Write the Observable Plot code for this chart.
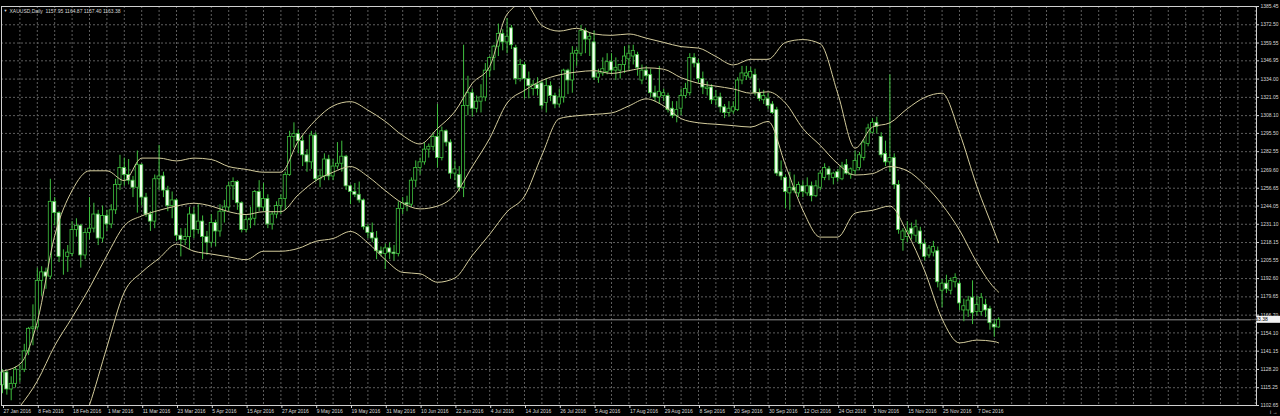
<!DOCTYPE html>
<html><head><meta charset="utf-8">
<script src="https://cdn.jsdelivr.net/npm/d3@7"></script>
<script src="https://cdn.jsdelivr.net/npm/@observablehq/plot@0.6"></script>
<style>
html,body{margin:0;padding:0;background:#000;}
#chart{width:1280px;height:416px;overflow:hidden;}
</style>
</head><body><div id="chart"></div>
<script>
const symbolTitle = "XAUUSD,Daily  1157.95 1164.87 1157.40 1163.38";
const lastPrice = 1163.38;
const dateLabels = ["27 Jan 2016","8 Feb 2016","18 Feb 2016","1 Mar 2016","11 Mar 2016","23 Mar 2016","5 Apr 2016","15 Apr 2016","27 Apr 2016","9 May 2016","19 May 2016","31 May 2016","10 Jun 2016","22 Jun 2016","4 Jul 2016","14 Jul 2016","26 Jul 2016","5 Aug 2016","17 Aug 2016","29 Aug 2016","8 Sep 2016","20 Sep 2016","30 Sep 2016","12 Oct 2016","24 Oct 2016","3 Nov 2016","15 Nov 2016","25 Nov 2016","7 Dec 2016"];
const priceTicks = [1385.45,1372.50,1359.55,1346.95,1334.00,1321.05,1308.10,1295.50,1282.55,1269.60,1256.65,1244.05,1231.10,1218.15,1205.55,1192.60,1179.65,1166.70,1154.10,1141.15,1128.20,1115.25,1102.65];

const open = [1117,1126,1114,1118,1128,1128,1141,1157,1158,1191,1197,1194,1247,1239,1208,1208,1210,1227,1230,1209,1225,1228,1238,1221,1237,1231,1241,1259,1271,1266,1262,1257,1273,1250,1238,1233,1263,1265,1255,1244,1248,1223,1220,1222,1238,1227,1233,1222,1218,1232,1226,1240,1243,1258,1261,1246,1227,1234,1235,1254,1243,1249,1231,1238,1244,1249,1266,1293,1295,1290,1280,1275,1294,1263,1265,1277,1265,1272,1274,1279,1258,1254,1252,1248,1229,1225,1221,1212,1210,1214,1211,1210,1242,1246,1245,1262,1271,1275,1284,1286,1293,1278,1297,1289,1267,1266,1257,1315,1324,1313,1318,1321,1340,1349,1357,1366,1360,1370,1356,1334,1344,1334,1327,1330,1331,1317,1329,1322,1316,1321,1340,1333,1352,1352,1368,1362,1360,1335,1338,1339,1346,1340,1340,1344,1348,1350,1351,1333,1340,1337,1324,1321,1322,1322,1313,1308,1313,1322,1324,1349,1345,1334,1327,1328,1319,1321,1314,1310,1311,1312,1333,1336,1335,1337,1324,1319,1320,1316,1312,1268,1264,1253,1257,1253,1258,1253,1258,1251,1257,1264,1270,1264,1268,1263,1273,1266,1269,1271,1278,1288,1296,1303,1293,1281,1275,1278,1259,1220,1222,1228,1223,1226,1217,1209,1211,1212,1184,1189,1184,1190,1189,1170,1170,1179,1169,1169,1174,1171,1160,1157.95];
const high = [1128,1127,1123,1130,1131,1146,1158,1174,1200,1201,1200,1263,1250,1240,1213,1216,1233,1235,1231,1228,1250,1246,1241,1244,1241,1245,1263,1280,1278,1277,1265,1283,1274,1253,1240,1266,1287,1268,1258,1254,1249,1228,1228,1243,1243,1245,1237,1226,1238,1234,1245,1248,1261,1264,1262,1247,1237,1243,1255,1262,1260,1252,1240,1247,1252,1268,1297,1303,1298,1294,1284,1297,1296,1270,1281,1280,1277,1289,1290,1280,1259,1260,1261,1249,1231,1232,1226,1215,1217,1218,1216,1247,1250,1251,1264,1276,1278,1289,1288,1296,1316,1300,1298,1291,1276,1272,1358,1336,1327,1322,1330,1345,1350,1358,1373,1369,1377,1372,1358,1348,1346,1339,1333,1335,1333,1334,1332,1324,1327,1341,1341,1357,1356,1372,1370,1367,1368,1341,1349,1352,1352,1349,1344,1357,1358,1358,1353,1344,1343,1341,1329,1343,1327,1324,1318,1318,1327,1331,1352,1352,1348,1339,1332,1330,1326,1324,1316,1318,1318,1335,1343,1343,1342,1341,1327,1326,1324,1318,1314,1276,1266,1268,1266,1261,1262,1264,1261,1262,1269,1274,1272,1268,1270,1275,1277,1271,1283,1282,1291,1302,1306,1307,1296,1290,1337,1281,1262,1228,1233,1232,1234,1229,1220,1216,1219,1215,1192,1195,1193,1196,1191,1178,1180,1191,1180,1182,1178,1173,1163,1164.87];
const low = [1111,1110,1106,1115,1119,1126,1138,1145,1156,1180,1185,1192,1230,1204,1195,1197,1208,1222,1200,1206,1220,1225,1216,1218,1226,1228,1238,1255,1258,1259,1250,1239,1244,1236,1226,1228,1255,1250,1240,1235,1219,1208,1216,1213,1221,1224,1206,1209,1215,1215,1222,1232,1240,1248,1241,1225,1225,1228,1230,1240,1240,1228,1227,1235,1238,1241,1265,1285,1281,1272,1268,1270,1261,1257,1262,1262,1262,1270,1268,1255,1245,1250,1246,1227,1221,1218,1206,1208,1199,1206,1205,1208,1238,1240,1243,1257,1266,1273,1278,1283,1271,1276,1286,1263,1262,1254,1250,1308,1307,1310,1310,1318,1335,1340,1350,1354,1352,1355,1330,1332,1320,1320,1322,1322,1312,1310,1318,1313,1314,1317,1323,1324,1343,1350,1352,1350,1333,1331,1336,1337,1337,1333,1334,1338,1340,1344,1336,1330,1334,1321,1318,1316,1318,1310,1306,1303,1308,1320,1322,1342,1331,1323,1322,1316,1315,1310,1306,1307,1309,1311,1330,1333,1334,1322,1318,1316,1312,1309,1265,1262,1242,1241,1253,1250,1250,1251,1247,1250,1255,1262,1262,1259,1261,1262,1266,1263,1266,1269,1276,1286,1295,1295,1278,1272,1268,1256,1224,1212,1218,1220,1218,1213,1205,1207,1208,1186,1172,1182,1181,1186,1170,1162,1165,1160,1166,1166,1165,1156,1151,1157.40];
const close = [1126,1114,1118,1128,1128,1141,1157,1158,1191,1197,1194,1247,1239,1208,1208,1211,1227,1230,1209,1225,1228,1238,1221,1237,1231,1241,1259,1271,1266,1262,1257,1273,1250,1238,1233,1263,1265,1255,1244,1248,1223,1220,1222,1238,1227,1233,1222,1218,1232,1226,1240,1243,1258,1261,1246,1227,1234,1235,1254,1243,1249,1231,1238,1244,1249,1266,1293,1295,1290,1280,1275,1294,1263,1265,1277,1265,1272,1274,1279,1258,1254,1252,1248,1229,1225,1221,1212,1210,1214,1211,1210,1242,1246,1245,1262,1271,1275,1284,1286,1293,1278,1297,1289,1267,1270,1257,1315,1324,1313,1318,1321,1340,1349,1357,1366,1360,1364,1358,1334,1344,1334,1329,1330,1327,1315,1329,1322,1316,1321,1340,1333,1352,1354,1368,1362,1364,1335,1338,1341,1346,1340,1342,1344,1350,1352,1354,1342,1340,1336,1324,1321,1325,1324,1312,1308,1312,1322,1327,1349,1345,1334,1328,1328,1319,1321,1314,1310,1313,1314,1333,1338,1338,1339,1324,1320,1322,1315,1310,1267,1265,1254,1257,1255,1259,1254,1258,1251,1258,1267,1271,1266,1267,1264,1272,1267,1270,1276,1280,1289,1299,1303,1300,1280,1275,1278,1259,1227,1226,1226,1224,1229,1217,1208,1214,1215,1190,1189,1185,1191,1193,1175,1173,1177,1168,1174,1179,1170,1161,1158,1163.38];

// Bollinger bands (20, 2) every 4th bar, plus the last bar
const bandUpper = [1127,1132,1162,1223,1255,1269,1269,1262,1278,1278,1276,1278,1277,1272,1270,1268,1268,1290,1305,1315,1318,1312,1304,1294,1288,1299,1311,1331,1343,1380,1388,1372,1368,1370,1366,1365,1366,1363,1360,1357,1356,1350,1344,1348,1348,1360,1362,1359,1324,1285,1300,1303,1313,1321,1324,1296,1258,1226,1218];
const bandMiddle = [1088,1102,1120,1145,1165,1186,1209,1230,1237,1241,1244,1246,1244,1240,1238,1240,1240,1252,1262,1268,1272,1265,1255,1246,1242,1244,1252,1272,1292,1317,1326,1333,1337,1339,1340,1338,1340,1342,1341,1335,1331,1329,1327,1324,1325,1317,1299,1287,1274,1266,1267,1272,1269,1259,1245,1227,1204,1186,1183];
const bandLower = [1072,1075,1068,1058,1072,1103,1144,1183,1197,1207,1217,1212,1210,1208,1206,1212,1212,1214,1219,1221,1226,1218,1206,1197,1196,1190,1193,1209,1224,1240,1251,1280,1306,1308,1309,1310,1315,1320,1315,1306,1303,1302,1301,1300,1304,1273,1241,1222,1222,1239,1241,1244,1225,1198,1164,1147,1149,1148,1147];

const green = "#3fc03f", bandColor = "#d4cc9c", gridColor = "#5e5e5e", textColor = "#d8d8d8";
const n = close.length;
const bars = close.map((c, i) => ({i, o: open[i], h: high[i], l: low[i], c, up: c >= open[i]}));
const bandIdx = d3.range(0, n - 1, 4).concat([n - 1]);
const bands = bandIdx.map((b, k) => ({i: b, u: bandUpper[k], m: bandMiddle[k], l: bandLower[k]}));
const labelIdx = dateLabels.map((d, k) => k * 8);
const gridIdx = d3.range(0, 289, 4);

const chart = Plot.plot({
  width: 1280, height: 416,
  marginLeft: 1, marginRight: 24, marginTop: 6, marginBottom: 11,
  x: {domain: [-0.23, 288.28], axis: null},
  y: {domain: [1102.65, 1385.45], axis: null},
  style: {background: "#000", color: textColor, fontFamily: "'Liberation Sans', Arial, sans-serif", fontSize: "5px", overflow: "visible"},
  marks: [
    Plot.ruleY(priceTicks.slice(1, -1), {stroke: gridColor, strokeDasharray: "2,2"}),
    Plot.ruleX(gridIdx.slice(1), {stroke: gridColor, strokeDasharray: "2,2"}),
    Plot.ruleY([lastPrice], {stroke: "#8c8c8c"}),
    Plot.ruleX(bars, {x: "i", y1: "l", y2: "h", stroke: green, strokeWidth: 1}),
    Plot.rect(bars, {x1: d => d.i - 0.36, x2: d => d.i + 0.36, y1: d => Math.min(d.o, d.c), y2: d => Math.max(d.o, d.c), fill: d => d.up ? "#000" : "#f4fff0", stroke: green, strokeWidth: 0.8, inset: 0}),
    Plot.line(bands, {x: "i", y: "u", stroke: bandColor, strokeWidth: 1, curve: "monotone-x", clip: true}),
    Plot.line(bands, {x: "i", y: "m", stroke: bandColor, strokeWidth: 1, curve: "monotone-x", clip: true}),
    Plot.line(bands, {x: "i", y: "l", stroke: bandColor, strokeWidth: 1, curve: "monotone-x", clip: true}),
    Plot.frame({stroke: "#cfcfcf"}),
    Plot.axisY(priceTicks, {anchor: "right", tickSize: 2, tickPadding: 2, tickFormat: d => d.toFixed(2), fontSize: 5, color: textColor}),
    Plot.axisX(labelIdx, {anchor: "bottom", tickSize: 3, tickPadding: 1, tickFormat: d => dateLabels[d / 8], textAnchor: "start", dx: 1, fontSize: 5, color: textColor}),
    Plot.text([symbolTitle], {frameAnchor: "top-left", dx: 8, dy: 2.5, textAnchor: "start", fill: textColor, fontSize: 5}),
    Plot.text(["\u25BC"], {frameAnchor: "top-left", dx: 2, dy: 2.5, textAnchor: "start", fill: textColor, fontSize: 4})
  ]
});

// current-price tag on the price axis
const ys = chart.scale("y"), xs = chart.scale("x");
const py = ys.apply(lastPrice), px = xs.range[1];
const svg = d3.select(chart);
svg.append("rect").attr("x", px + 1).attr("y", py - 3.5).attr("width", 23).attr("height", 7).attr("fill", "#f2f2f2");
svg.append("text").attr("x", px + 3).attr("y", py).attr("dy", "0.35em").attr("fill", "#000")
  .attr("font-size", 5).attr("font-family", "'Liberation Sans', Arial, sans-serif").text(lastPrice.toFixed(2));

document.getElementById("chart").appendChild(chart);
</script>
</body></html>
